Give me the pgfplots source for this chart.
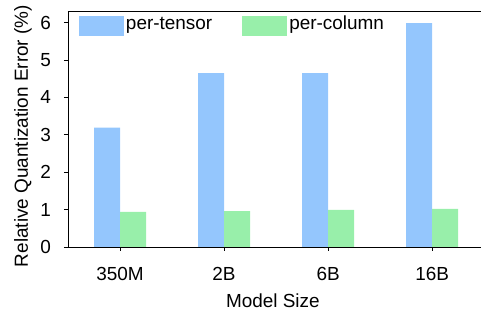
\documentclass[border=0pt]{standalone}
\usepackage{pgfplots}
\pgfplotsset{compat=1.18}
\usepackage{fontspec}
\setmainfont{Liberation Sans}
\definecolor{tblue}{RGB}{148,198,253}
\definecolor{tgreen}{RGB}{152,239,170}
\begin{document}
\begin{tikzpicture}
\begin{axis}[
  scale only axis,
  width=413bp, height=235.5bp,
  xmin=-0.5, xmax=3.47,
  ymin=0, ymax=6.30,
  axis x line*=bottom, axis y line*=left,
  axis line style={line width=0.8bp, black, -},
  every tick/.style={black, line width=0.8bp},
  tick align=outside,
  major tick length=4bp,
  xtick={0,1,2,3},
  xticklabels={350M,2B,6B,16B},
  ytick={0,1,2,3,4,5,6},
  font=\fontsize{19}{22}\selectfont,
  /pgf/number format/assume math mode=true,
  xticklabel style={anchor=base, inner sep=0pt, yshift=-30bp},
  yticklabel style={anchor=east, inner sep=0pt, xshift=-13bp},
  xlabel={Model Size},
  ylabel={Relative Quantization Error (\%)},
  xlabel style={at={(rel axis cs:0.496,0)}, anchor=base, inner sep=0pt, yshift=-61bp},
  ylabel style={at={(rel axis cs:0,0.471)}, anchor=base, inner sep=0pt, yshift=40bp},
  ybar, bar width=0.25,
  legend columns=2,
  legend image code/.code={\fill[#1, draw=none] (0bp,-7bp) rectangle (45bp,13bp); \path (47bp,0bp);},
  legend style={at={(rel axis cs:0,1)}, anchor=north west, xshift=11bp, yshift=-4bp,
    draw=none, fill=none, inner sep=0pt, outer sep=0pt,
    nodes={inner sep=0pt, anchor=base west},
    /tikz/every even column/.append style={column sep=30bp}},
]
\coordinate (bl) at (rel axis cs:0,0);
\coordinate (tr) at (rel axis cs:1,1);
\addplot[fill=tblue, draw=none, bar shift=-0.125] coordinates {(0,3.19) (1,4.65) (2,4.65) (3,5.99)};
\addplot[fill=tgreen, draw=none, bar shift=0.125] coordinates {(0,0.94) (1,0.96) (2,0.99) (3,1.02)};
\legend{per-tensor, per-column}
\draw[line width=0.8bp] (rel axis cs:0,1) -- (rel axis cs:1,1);
\end{axis}
\pgfresetboundingbox
\path[use as bounding box] ([shift={(-68bp,-67bp)}]bl) rectangle ([shift={(1bp,11.5bp)}]tr);
\end{tikzpicture}
\end{document}
